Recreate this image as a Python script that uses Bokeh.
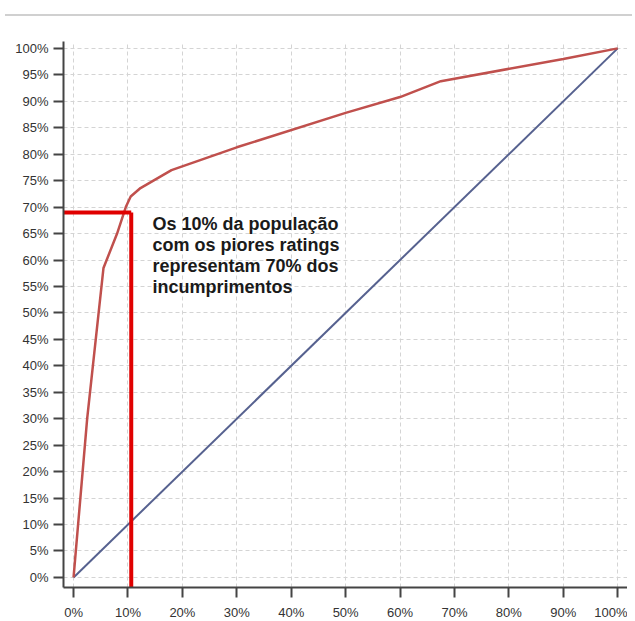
from bokeh.plotting import figure
from bokeh.models import Range1d, FixedTicker, Div, CustomJSTickFormatter
from bokeh.layouts import column
from bokeh.embed import file_html
from bokeh.resources import INLINE
from bokeh.core.properties import value

# Data (percentages)
pop_share = [0, 2.5, 5.5, 8.0, 9.6, 10.5, 12.3, 18.0, 30.0, 50.0, 60.0, 67.5, 90.0, 100.0]
default_share = [0, 30.0, 58.5, 65.0, 70.0, 72.0, 73.6, 77.0, 81.3, 87.8, 90.8, 93.8, 98.0, 100.0]
random_x = [0, 100]
random_y = [0, 100]
highlight_x = 10.6
highlight_y = 69.0
x_ticks = list(range(0, 101, 10))
y_ticks = list(range(0, 101, 5))
note_lines = [
    "Os 10% da população",
    "com os piores ratings",
    "representam 70% dos",
    "incumprimentos",
]

X0, X1 = -1.85, 101.8
Y0, Y1 = -1.9, 101.3

p = figure(width=627, height=601, output_backend="svg", toolbar_location=None,
           x_range=Range1d(X0, X1), y_range=Range1d(Y0, Y1),
           min_border_left=63, min_border_right=0, min_border_top=20, min_border_bottom=30)
p.outline_line_color = None
p.background_fill_color = "white"

fmt = CustomJSTickFormatter(code="return tick.toFixed(0) + '%';")
for ax, ticks in ((p.xaxis[0], x_ticks), (p.yaxis[0], y_ticks)):
    ax.ticker = FixedTicker(ticks=ticks)
    ax.formatter = fmt
    ax.minor_tick_line_color = None
    ax.major_tick_in = 0
    ax.major_tick_out = 10
    ax.major_tick_line_color = "#444444"
    ax.major_tick_line_width = 2
    ax.axis_line_color = "#444444"
    ax.axis_line_width = 2
    ax.major_label_text_font = "Liberation Sans"
    ax.major_label_text_font_size = "13px"
    ax.major_label_text_color = "#333333"
p.yaxis[0].major_label_standoff = 5
p.xaxis[0].major_label_standoff = 7

p.xgrid.ticker = FixedTicker(ticks=x_ticks)
p.ygrid.ticker = FixedTicker(ticks=y_ticks)
for g in (p.xgrid, p.ygrid):
    g.grid_line_color = "#d4d4d4"
    g.grid_line_dash = "4 3"
    g.grid_line_width = 1

# Random model diagonal
p.line(random_x, random_y, line_color="#56618f", line_width=2)
# CAP curve
p.line(pop_share, default_share, line_color="#c0504d", line_width=2.5)

# Highlight lines
p.line([X0, highlight_x], [highlight_y, highlight_y], line_color="#e00000", line_width=4)
p.line([highlight_x, highlight_x], [highlight_y, Y0], line_color="#e00000", line_width=4)

# Annotation text
ys = [highlight_y - 0.3 - i * 3.95 for i in range(len(note_lines))]
p.text(x=[14.5] * len(note_lines), y=ys, text=note_lines,
       text_font=value("Liberation Sans"), text_font_style="bold",
       text_font_size="18px", text_color="#1a1a1a", text_baseline="top")

top = Div(text="", width=627, height=9,
          styles={"border-bottom": "2px solid #d0d0d0", "box-sizing": "content-box"})
layout = column(top, p, spacing=0)

open("out.html", "w").write(file_html(layout, INLINE))
